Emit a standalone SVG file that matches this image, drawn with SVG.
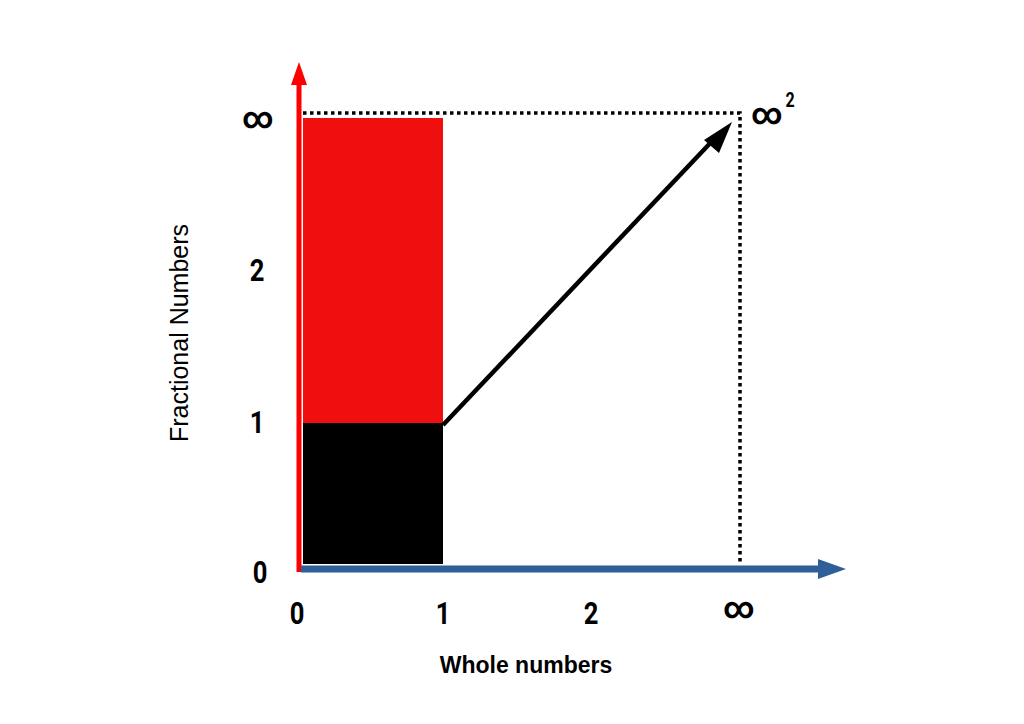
<svg xmlns="http://www.w3.org/2000/svg" width="1024" height="724" viewBox="0 0 1024 724">
<style>
.num{font-family:"Roboto","Liberation Sans",sans-serif;font-weight:bold;font-size:32px;fill:#000;text-anchor:middle}
.inf{font-family:"Roboto","Liberation Sans",sans-serif;font-weight:bold;font-size:30px;fill:#000;text-anchor:middle}
.lab{font-family:"Liberation Sans",Arial,sans-serif;fill:#000;text-anchor:middle}
.dot{stroke:#000;stroke-width:3.5;stroke-dasharray:3.5 3.5;fill:none}
</style>
<rect width="1024" height="724" fill="#fff"/>
<g id="regions">
<rect x="303" y="118" width="140" height="305" fill="#ef0f0f"/>
<rect x="303" y="423" width="140" height="141" fill="#000"/>
</g>
<g id="connectors">
<path class="dot" d="M303 113 H740 V563"/>
<line x1="299" y1="572" x2="299" y2="84" stroke="#ff0000" stroke-width="5"/>
<polygon points="299,62 291,85 307,85" fill="#ff0000"/>
<line x1="301" y1="569" x2="820" y2="569" stroke="#2e5f99" stroke-width="7"/>
<polygon points="846,569 818,559 818,579" fill="#2e5f99"/>
<line x1="443" y1="425" x2="716" y2="137" stroke="#000" stroke-width="4.5"/>
<polygon points="732,122 704,140 719,153" fill="#000"/>
</g>
<g id="labels">
<text class="inf" x="258" y="128">∞</text>
<text class="num" transform="translate(257,281) scale(0.8,1)">2</text>
<text class="num" transform="translate(257,433) scale(0.8,1)">1</text>
<text class="num" transform="translate(260,583) scale(0.8,1)">0</text>
<text class="num" transform="translate(297,624) scale(0.8,1)">0</text>
<text class="num" transform="translate(443,624) scale(0.8,1)">1</text>
<text class="num" transform="translate(591,624) scale(0.8,1)">2</text>
<text class="inf" x="739" y="618">∞</text>
<text class="inf" x="767" y="124">∞</text>
<text class="num" transform="translate(790,107) scale(0.8,1)" style="font-size:20px">2</text>
<text class="lab" x="526" y="673" style="font-weight:bold;font-size:23px">Whole numbers</text>
<text class="lab" transform="translate(188,333) rotate(-90)" style="font-size:25px">Fractional Numbers</text>
</g>
</svg>
